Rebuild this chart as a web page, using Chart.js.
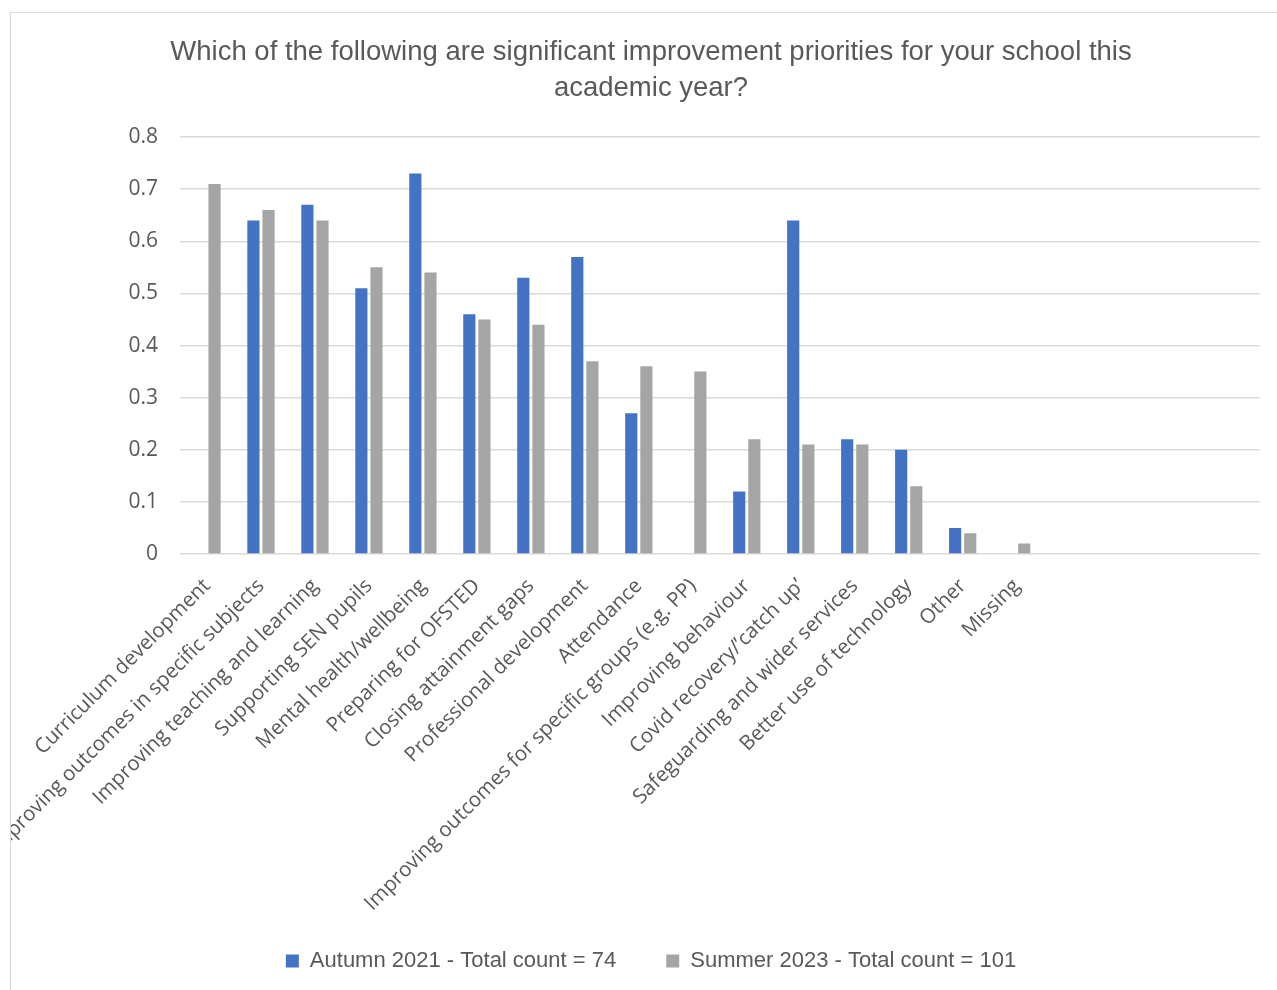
<!DOCTYPE html>
<html>
<head>
<meta charset="utf-8">
<script src="https://cdn.jsdelivr.net/npm/chart.js@4"></script>
<style>
  html, body { margin: 0; padding: 0; background: #fff; overflow: hidden; }
  body { width: 1277px; height: 990px; position: relative; }
  #frame {
    position: absolute; left: 10px; top: 12px;
    width: 1300px; height: 1000px;
    border: 1px solid #d9d9d9; box-sizing: border-box;
  }
  #wrap { position: absolute; left: 11px; top: 13px; width: 1251px; height: 977px; }
</style>
</head>
<body>
<div id="frame"></div>
<div id="wrap"><canvas id="chart"></canvas></div>
<script>
// categories (the last four slots are left blank on the axis)
const categories = [
  'Curriculum development',
  'Improving outcomes in specific subjects',
  'Improving teaching and learning',
  'Supporting SEN pupils',
  'Mental health/wellbeing',
  'Preparing for OFSTED',
  'Closing attainment gaps',
  'Professional development',
  'Attendance',
  'Improving outcomes for specific groups (e.g. PP)',
  'Improving behaviour',
  'Covid recovery/\u2019catch up\u2019',
  'Safeguarding and wider services',
  'Better use of technology',
  'Other',
  'Missing',
  '', '', '', ''
];

// share of schools choosing each priority
const autumn2021 = [null, 0.64, 0.67, 0.51, 0.73, 0.46, 0.53, 0.57, 0.27, null, 0.12, 0.64, 0.22, 0.20, 0.05, null];
const summer2023 = [0.71, 0.66, 0.64, 0.55, 0.54, 0.45, 0.44, 0.37, 0.36, 0.35, 0.22, 0.21, 0.21, 0.13, 0.04, 0.02];

const seriesNames = ['Autumn 2021 - Total count = 74', 'Summer 2023 - Total count = 101'];
const titleLines = ['Which of the following are significant improvement priorities for your school this', 'academic year?'];

const textGrey = '#595959';
const headFont = "'Liberation Sans', Arial, sans-serif";
const body = "'Open Sans', 'Noto Sans', sans-serif";

// the long rotated labels run past the axis box, so widen its clip area
const labelRoom = {
  id: 'labelRoom',
  afterLayout(chart) {
    chart.scales.x.bottom += 40;
  },
};

new Chart(document.getElementById('chart'), {
  type: 'bar',
  data: {
    labels: categories,
    datasets: [{
      label: seriesNames[0],
      data: autumn2021,
      backgroundColor: '#4472C4',
      categoryPercentage: 0.56,
      barPercentage: 0.805,
    }, {
      label: seriesNames[1],
      data: summer2023,
      backgroundColor: '#A5A5A5',
      categoryPercentage: 0.56,
      barPercentage: 0.805,
    }],
  },
  options: {
    responsive: true,
    maintainAspectRatio: false,
    animation: false,
    layout: { padding: { left: 29, right: 0, top: 0, bottom: 8 } },
    plugins: {
      tooltip: { enabled: false },
      title: {
        display: true,
        text: titleLines,
        color: textGrey,
        font: { family: headFont, size: 27.5, weight: 'normal', lineHeight: 1.31 },
        padding: { top: 21, bottom: 31 },
      },
      legend: {
        position: 'bottom',
        labels: {
          color: textGrey,
          font: { family: headFont, size: 22 },
          boxWidth: 13,
          boxHeight: 13,
          padding: 50,
        },
      },
    },
    scales: {
      x: {
        grid: { display: false },
        border: { display: false },
        ticks: {
          color: textGrey,
          font: { family: body, size: 20.5 },
          autoSkip: false,
          maxRotation: 45,
          minRotation: 45,
          padding: 12,
        },
        afterFit: (scale) => { scale.height = 346; },
      },
      y: {
        min: 0,
        max: 0.8,
        border: { display: false },
        grid: { color: '#d9d9d9', lineWidth: 1.5, drawTicks: false },
        ticks: {
          stepSize: 0.1,
          color: textGrey,
          font: { family: body, size: 21 },
          padding: 22,
          callback: (v) => (v === 0 ? '0' : v.toFixed(1)),
        },
        afterFit: (scale) => { scale.width = 140; },
      },
    },
  },
  plugins: [labelRoom],
});
</script>
</body>
</html>
